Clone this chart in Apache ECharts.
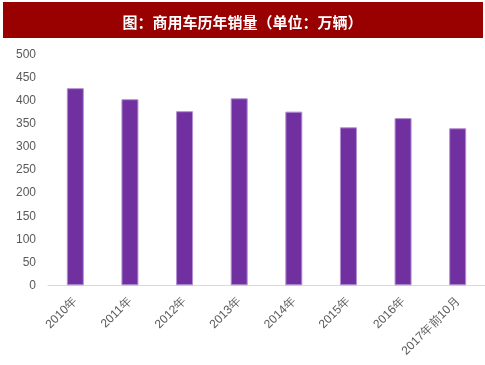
<!DOCTYPE html>
<html><head><meta charset="utf-8">
<script src="https://cdn.jsdelivr.net/npm/echarts@6/dist/echarts.min.js"></script>
<style>html,body{margin:0;padding:0;background:#fff}#c{width:485px;height:365px}</style>
</head><body><div id="c"></div>
<script>
var titleText = '图：商用车历年销量（单位：万辆）';
var categories = ['2010年','2011年','2012年','2013年','2014年','2015年','2016年','2017年前10月'];
var sales = [428, 404, 378, 406, 377, 343, 363, 341];
var yTicks = {min: 0, max: 500, interval: 50};

var chart = echarts.init(document.getElementById('c'), null, {renderer: 'canvas'});
chart.setOption({
  animation: false,
  backgroundColor: '#fff',
  graphic: [{
    type: 'rect', left: 3, top: 2, shape: {width: 480, height: 36},
    style: {fill: '#990000'}, z: 0
  }],
  title: {
    text: titleText, left: 'center', top: 10,
    textStyle: {color: '#fff', fontSize: 15, fontWeight: 'bold', fontFamily: 'Noto Sans CJK SC'}
  },
  grid: {left: 48, top: 55, width: 441, height: 230.3, containLabel: false},
  xAxis: {
    type: 'category', data: categories,
    axisLine: {lineStyle: {color: '#d9d9d9', width: 1}},
    axisTick: {show: false},
    axisLabel: {rotate: 45, color: '#595959', fontSize: 12, margin: 14, interval: 0, fontFamily: 'Liberation Sans'}
  },
  yAxis: {
    type: 'value', min: yTicks.min, max: yTicks.max, interval: yTicks.interval,
    axisLine: {show: false}, axisTick: {show: false}, splitLine: {show: false},
    axisLabel: {color: '#595959', fontSize: 12, margin: 12, fontFamily: 'Liberation Sans'}
  },
  series: [{
    type: 'bar', data: sales, barWidth: 17,
    itemStyle: {color: '#7030A0', borderColor: '#b28fd0', borderWidth: 1}
  }]
});
</script></body></html>
